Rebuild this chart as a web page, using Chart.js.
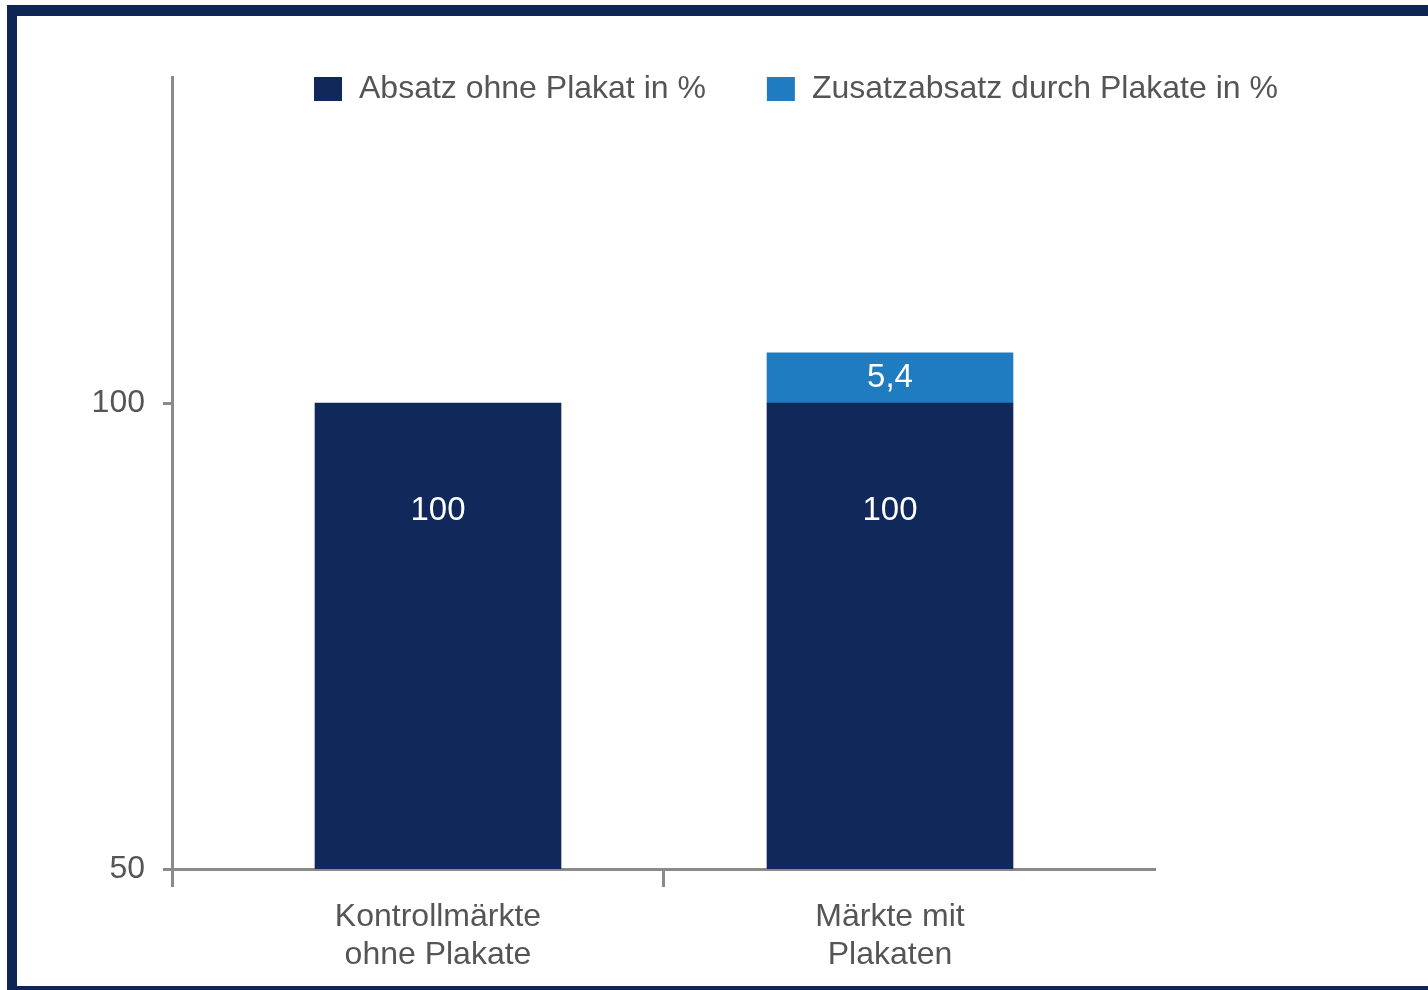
<!DOCTYPE html>
<html>
<head>
<meta charset="utf-8">
<script src="https://cdn.jsdelivr.net/npm/chart.js@4"></script>
<style>
  html, body { margin: 0; padding: 0; background: #fff; overflow: hidden; }
  #frame {
    position: absolute; left: 7px; top: 5px; right: -20px; bottom: 0;
    border-style: solid; border-color: #0d2656;
    border-width: 11px 0 4px 10px;
  }
  #barChart { position: absolute; left: 0; top: 0; }
</style>
</head>
<body>
<div id="frame"></div>
<canvas id="barChart" width="1428" height="990"></canvas>
<script>
// Kategorien und Werte
var categories = [['Kontrollmärkte', 'ohne Plakate'], ['Märkte mit', 'Plakaten']];
var categoryPos = [1, 2];
var seriesNames = ['Absatz ohne Plakat in %', 'Zusatzabsatz durch Plakate in %'];
var baseValues = [100, 100];
var extraValues = [null, 5.4];
var yTicks = [50, 100];

var navy = '#10285a';
var lightBlue = '#1f7cc0';
var grey = '#8a8a8a';
var textGrey = '#555555';
var fontName = '"Liberation Sans", Arial, sans-serif';

var xMin = 0.4115, xMax = 2.5863;

function toPoints(values) {
    return values.map(function (v, i) { return { x: categoryPos[i], y: v }; });
}

function fmt(v) {
    return String(v).replace('.', ',');
}

// Werte in die Balken schreiben
var valueLabels = {
    id: 'valueLabels',
    afterDatasetsDraw: function (chart) {
        var ctx = chart.ctx;
        ctx.save();
        ctx.fillStyle = '#ffffff';
        ctx.font = '33px ' + fontName;
        ctx.textAlign = 'center';
        ctx.textBaseline = 'middle';
        chart.data.datasets.forEach(function (ds, i) {
            var meta = chart.getDatasetMeta(i);
            meta.data.forEach(function (el, j) {
                var v = ds.data[j].y;
                if (!v) return;
                var y = i === 0 ? el.y + 108 : (el.y + el.base) / 2;
                ctx.fillText(fmt(v), el.x, y);
            });
        });
        ctx.restore();
    }
};

// Legende oben im Diagramm
var topLegend = {
    id: 'topLegend',
    afterDraw: function (chart) {
        var ctx = chart.ctx;
        ctx.save();
        ctx.font = '32px ' + fontName;
        ctx.textBaseline = 'middle';
        var x = 314;
        var y = 89;
        chart.data.datasets.forEach(function (ds) {
            ctx.fillStyle = ds.backgroundColor;
            ctx.fillRect(x, y - 12, 28, 24);
            x += 28 + 17;
            ctx.fillStyle = textGrey;
            ctx.fillText(ds.label, x, y);
            x += ctx.measureText(ds.label).width + 61;
        });
        ctx.restore();
    }
};

var ctx = document.getElementById('barChart').getContext('2d');
var chart = new Chart(ctx, {
    type: 'bar',
    data: {
        datasets: [{
            label: seriesNames[0],
            data: toPoints(baseValues),
            backgroundColor: navy,
            barThickness: 246
        }, {
            label: seriesNames[1],
            data: toPoints(extraValues),
            backgroundColor: lightBlue,
            barThickness: 246
        }]
    },
    options: {
        responsive: false,
        animation: false,
        layout: { padding: { top: 77, right: 273, bottom: 0, left: 0 } },
        plugins: {
            legend: { display: false },
            tooltip: { enabled: false }
        },
        scales: {
            x: {
                type: 'linear',
                stacked: true,
                min: xMin,
                max: xMax,
                offset: false,
                afterBuildTicks: function (scale) {
                    scale.ticks = [{ value: xMin }, { value: 1 }, { value: 1.5 }, { value: 2 }];
                },
                afterFit: function (scale) { scale.height = 121; },
                border: { color: grey, width: 3 },
                grid: {
                    offset: false,
                    drawOnChartArea: false,
                    tickLength: 18,
                    tickWidth: 3,
                    tickColor: function (c) {
                        if (!c.tick) return 'transparent';
                        return (c.tick.value === 1.5 || c.tick.value === xMin) ? grey : 'transparent';
                    }
                },
                ticks: {
                    autoSkip: false,
                    maxRotation: 0,
                    padding: 11,
                    color: textGrey,
                    font: { family: fontName, size: 32, lineHeight: 1.2 },
                    callback: function (value) {
                        var idx = categoryPos.indexOf(value);
                        return idx >= 0 ? categories[idx] : '';
                    }
                }
            },
            y: {
                stacked: true,
                min: 50,
                max: 135,
                afterBuildTicks: function (scale) {
                    scale.ticks = yTicks.map(function (v) { return { value: v }; });
                },
                afterFit: function (scale) { scale.width = 172; },
                border: { color: grey, width: 3 },
                grid: {
                    drawOnChartArea: false,
                    tickLength: 9,
                    tickWidth: 3,
                    tickColor: grey
                },
                ticks: {
                    padding: 18,
                    color: textGrey,
                    font: { family: fontName, size: 32 }
                }
            }
        }
    },
    plugins: [valueLabels, topLegend]
});
</script>
</body>
</html>
